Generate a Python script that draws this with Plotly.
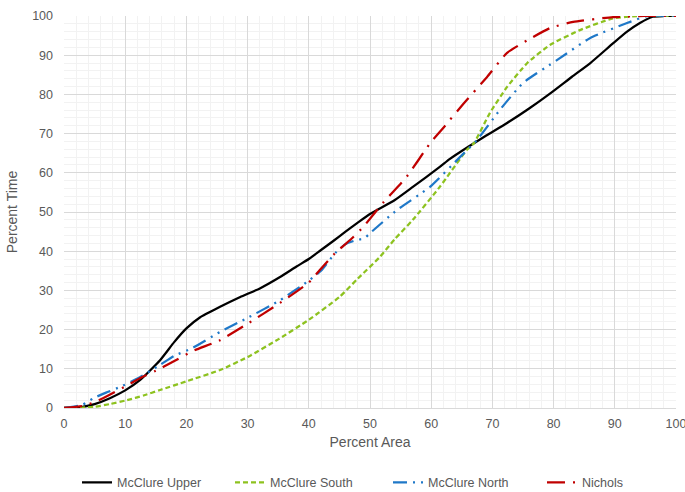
import plotly.graph_objects as go

upper_x = [0, 3, 5, 7.5, 10, 12.4, 15.7, 18, 20, 22.2, 25.5, 28.8, 32, 35.3, 38, 40, 42, 44, 46, 48, 50, 54, 57, 61.4, 63, 66, 69, 72.4, 76, 79.4, 83, 86, 89.7, 92, 94.1, 96.2, 98, 100]
upper_y = [0, 0.3, 1, 2.5, 4.5, 7.1, 12.2, 16.8, 20.3, 23.1, 25.8, 28.3, 30.5, 33.4, 36.1, 38, 40.3, 42.6, 45, 47.3, 49.5, 53, 56.4, 61.5, 63.5, 66.6, 69.5, 72.7, 76.4, 80.2, 84.5, 88, 93, 96, 98.2, 99.8, 100, 100]

south_x = [0, 3, 5, 7.5, 10.3, 13, 15.7, 20, 25.5, 30, 35, 40, 45, 48, 51.6, 54, 57, 61.4, 65.8, 67, 69.6, 72.4, 75.7, 79.4, 84.3, 89.7, 94, 100]
south_y = [0, 0.1, 0.3, 1, 2, 3.2, 4.6, 6.8, 9.7, 13, 17.5, 22.5, 28.3, 33, 38.5, 43, 48, 56.4, 65.8, 67.6, 75.3, 81.9, 88, 92.6, 96.4, 99.4, 100, 100]

north_x = [0, 3, 4.8, 7, 9.2, 12, 15.7, 18, 21, 25.5, 30, 35.3, 40, 42, 44.3, 46, 47.9, 49, 50, 54.4, 59.8, 64.7, 67.5, 71.2, 75, 80.6, 86, 92, 95.3, 100]
north_y = [0, 0.8, 2.5, 4, 5.4, 7.5, 11, 13.3, 15.3, 19.4, 23, 27.5, 32.5, 35, 39.5, 41.8, 42.9, 43.2, 44.6, 50.5, 56.4, 64, 68.4, 76, 82.9, 88.8, 94.4, 98.2, 100, 100]

nichols_x = [0, 3, 5, 7, 10, 12.4, 15, 17.8, 21, 25.5, 30, 35.3, 40, 41.8, 44.3, 47.2, 48.9, 52.1, 56, 59.8, 62, 65.2, 69.1, 72.4, 75.7, 79.4, 83.2, 89.7, 95, 100]
nichols_y = [0, 0.5, 1.5, 3, 5.5, 7.6, 9.5, 11.8, 14.5, 17.3, 21.5, 26.8, 32, 35.2, 39.5, 43.5, 46.2, 52.3, 59, 67.5, 71.5, 77.5, 84.4, 90.6, 93.8, 96.9, 98.5, 99.7, 100, 100]

tick_vals = list(range(0, 101, 10))

series = [
    ("McClure Upper", upper_x, upper_y, "#000000", "solid", "legend"),
    ("McClure South", south_x, south_y, "#8DC21F", "5px,3px", "legend2"),
    ("McClure North", north_x, north_y, "#1F78C8", "14px,6px,2px,6px,2px,6px", "legend3"),
    ("Nichols", nichols_x, nichols_y, "#C00000", "18px,8px,2px,8px", "legend4"),
]

fig = go.Figure()
for name, xs, ys, color, dash, lg in series:
    fig.add_trace(go.Scatter(x=xs, y=ys, mode="lines", name=name, legend=lg,
                             line=dict(color=color, width=2.25, dash=dash, shape="spline", smoothing=0.5)))

axis_common = dict(
    range=[0, 100], tickvals=tick_vals, showgrid=True, gridcolor="#D9D9D9", gridwidth=1,
    minor=dict(dtick=2, showgrid=True, gridcolor="#F2F2F2", gridwidth=1),
    zeroline=False, tickfont=dict(size=12.5, color="#595959"), ticks="", automargin=False,
    ticklabeloverflow="allow",
)

legend_font = dict(size=12.5, color="#595959")
legend_y = -0.191


def leg(x):
    return dict(orientation="h", x=x, xanchor="left", y=legend_y, yanchor="middle",
                font=legend_font, bgcolor="rgba(0,0,0,0)")


fig.update_layout(
    width=685, height=510,
    margin=dict(l=64, r=9, t=16, b=102),
    paper_bgcolor="white", plot_bgcolor="white",
    font=dict(family="Liberation Sans, Arial, sans-serif", color="#595959"),
    xaxis=dict(title=dict(text="Percent Area", font=dict(size=14, color="#595959"), standoff=7),
               showline=True, linecolor="#D9D9D9", ticklabelstandoff=4, **axis_common),
    yaxis=dict(title=dict(text="Percent Time", font=dict(size=14, color="#595959"), standoff=11),
               showline=False, ticklabelstandoff=10, **axis_common),
    legend=leg((117 - 104) / 612),
    legend2=leg((270 - 104) / 612),
    legend3=leg((428 - 104) / 612),
    legend4=leg((582 - 104) / 612),
    showlegend=True,
)

fig.write_html(
    "out.html",
    config={"displayModeBar": False},
    post_script="document.body.style.margin='0';document.body.style.overflow='hidden';"
                "document.documentElement.style.overflow='hidden';",
)
